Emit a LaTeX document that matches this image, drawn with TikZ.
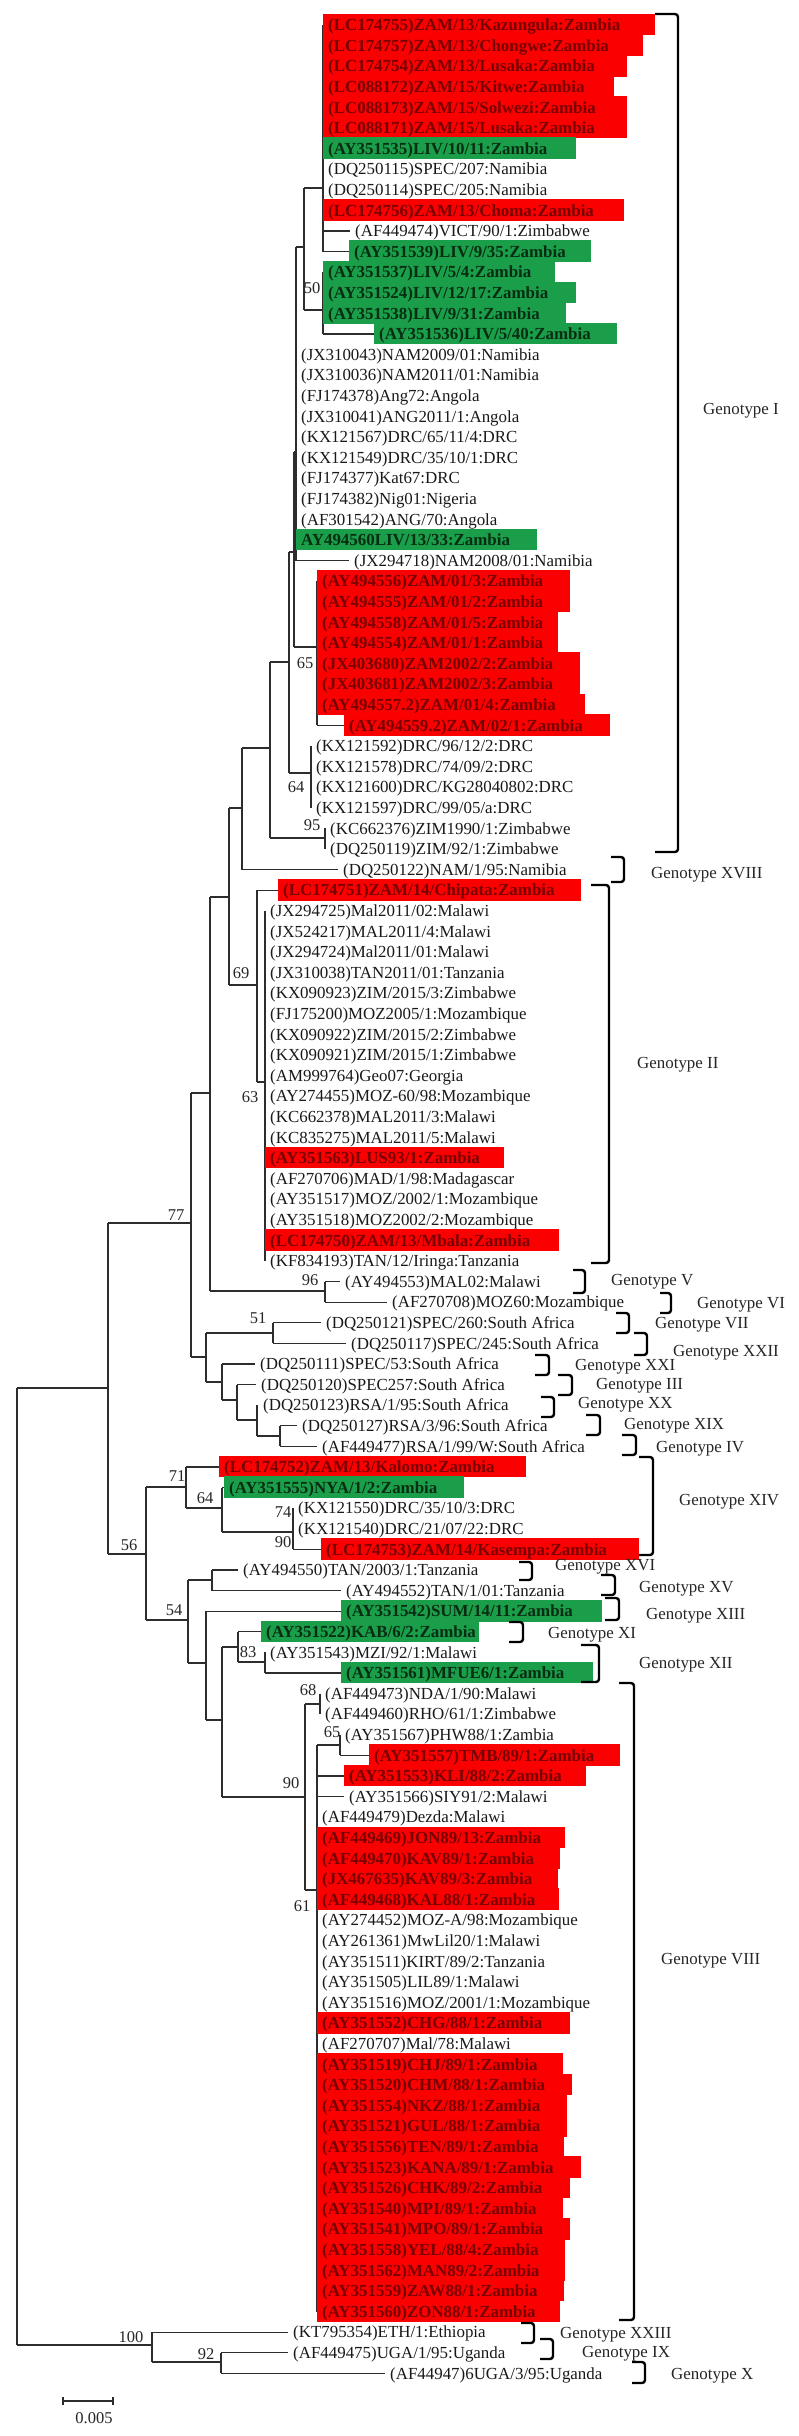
\documentclass[tikz,border=0pt]{standalone}
\usepackage{fontspec}
\setmainfont{Liberation Serif}
\usetikzlibrary{calc}
\pgfdeclarelayer{bglayer}
\pgfdeclarelayer{treelines}
\pgfdeclarelayer{boxes}
\pgfsetlayers{bglayer,treelines,boxes,main}
\definecolor{hlred}{RGB}{250,0,0}
\definecolor{hlredtxt}{RGB}{120,0,0}
\definecolor{hlgreen}{RGB}{26,158,74}
\definecolor{hlgreentxt}{RGB}{8,45,18}
\definecolor{linec}{RGB}{45,45,45}
\tikzset{
  tree/.style={draw=linec, line width=1.1pt},
  leaf/.style={font=\fontsize{16.9}{20}\selectfont, inner sep=0pt, text=black!90},
  redtxt/.style={font=\fontsize{16.9}{20}\selectfont\bfseries, text=hlredtxt},
  greentxt/.style={font=\fontsize{16.9}{20}\selectfont\bfseries, text=hlgreentxt},
  bs/.style={font=\fontsize{16.5}{18}\selectfont, inner sep=0pt, text=black!85},
  brk/.style={draw=black, line width=2.4pt, rounded corners=3pt},
  glab/.style={font=\fontsize{16.9}{20}\selectfont, inner sep=0pt, text=black!85}
}
\newcommand\pleaf[4]{%
  \pgfmathsetmacro\ry{25+(#1-1)*20.6}%
  \coordinate (b#1) at (#3,\ry);%
  \begin{pgfonlayer}{treelines}\draw[tree] (#2 |- b#1) -- (b#1);\end{pgfonlayer}%
  \node[leaf,anchor=base west] (t#1) at ({#3+5},{\ry+5.6}) {#4};}
\newcommand\rleaf[5]{%
  \pgfmathsetmacro\ry{25+(#1-1)*20.6}%
  \coordinate (b#1) at (#3,\ry);%
  \begin{pgfonlayer}{treelines}\draw[tree] (#2 |- b#1) -- (b#1);\end{pgfonlayer}%
  \begin{pgfonlayer}{boxes}\fill[hlred] (#3,{\ry-11.3}) rectangle (#4,{\ry+10.3});\end{pgfonlayer}%
  \node[leaf,redtxt,anchor=base west] (t#1) at ({#3+5},{\ry+5.6}) {#5};}
\newcommand\gleaf[5]{%
  \pgfmathsetmacro\ry{25+(#1-1)*20.6}%
  \coordinate (b#1) at (#3,\ry);%
  \begin{pgfonlayer}{treelines}\draw[tree] (#2 |- b#1) -- (b#1);\end{pgfonlayer}%
  \begin{pgfonlayer}{boxes}\fill[hlgreen] (#3,{\ry-11.3}) rectangle (#4,{\ry+10.3});\end{pgfonlayer}%
  \node[leaf,greentxt,anchor=base west] (t#1) at ({#3+5},{\ry+5.6}) {#5};}
\newcommand\geno[8]{%
  \draw[brk] (#2,#4) -- (#3,#4) -- (#3,#5) -- (#2,#5);%
  \node[glab,anchor=base west] (#1) at (#6,{#7+5.6}) {#8};}
\begin{document}
\begin{tikzpicture}[x=1pt,y=-1pt]
\begin{pgfonlayer}{bglayer}
\fill[white] (0,0) rectangle (799,2436);
\end{pgfonlayer}
\useasboundingbox (0,0) rectangle (799,2436);
% internal nodes
\coordinate (a1) at (323,188);
\coordinate (a3) at (323,310);
\coordinate (a2) at (304,247);
\coordinate (a4) at (296,452);
\coordinate (R1) at (317,647);
\coordinate (A) at (294,552);
\coordinate (DRC) at (311,773);
\coordinate (B) at (289,662);
\coordinate (ZIM) at (325,838);
\coordinate (C) at (270,748);
\coordinate (D) at (242,808);
\coordinate (N69) at (257,985);
\coordinate (N63) at (265,1082);
\coordinate (E) at (229,897);
\coordinate (G) at (325,1291);
\coordinate (F) at (210,1093);
\coordinate (N51) at (273,1333);
\coordinate (M) at (280,1436);
\coordinate (L) at (257,1420);
\coordinate (K) at (237,1400);
\coordinate (J) at (222,1382);
\coordinate (I) at (206,1357);
\coordinate (H) at (191,1223);
\coordinate (NN) at (293,1532);
\coordinate (N64) at (222,1508);
\coordinate (N71) at (186,1487);
\coordinate (R) at (212,1580);
\coordinate (V) at (265,1662);
\coordinate (U) at (238,1647);
\coordinate (N68) at (320,1704);
\coordinate (N65) at (340,1745);
\coordinate (N61) at (317,1890);
\coordinate (N90) at (305,1797);
\coordinate (X) at (222,1720);
\coordinate (T) at (206,1663);
\coordinate (S) at (188,1620);
\coordinate (Q) at (146,1554);
\coordinate (P) at (108,1388);
\coordinate (N92) at (221,2362);
\coordinate (N100) at (152,2345);
\coordinate (root) at (17,1866);
% leaves
\rleaf{1}{a1}{323}{655}{(LC174755)ZAM/13/Kazungula:Zambia}
\rleaf{2}{a1}{323}{643}{(LC174757)ZAM/13/Chongwe:Zambia}
\rleaf{3}{a1}{323}{627}{(LC174754)ZAM/13/Lusaka:Zambia}
\rleaf{4}{a1}{323}{614}{(LC088172)ZAM/15/Kitwe:Zambia}
\rleaf{5}{a1}{323}{627}{(LC088173)ZAM/15/Solwezi:Zambia}
\rleaf{6}{a1}{323}{627}{(LC088171)ZAM/15/Lusaka:Zambia}
\gleaf{7}{a1}{323}{576}{(AY351535)LIV/10/11:Zambia}
\pleaf{8}{a1}{323}{(DQ250115)SPEC/207:Namibia}
\pleaf{9}{a1}{323}{(DQ250114)SPEC/205:Namibia}
\rleaf{10}{a1}{323}{624}{(LC174756)ZAM/13/Choma:Zambia}
\pleaf{11}{a1}{350}{(AF449474)VICT/90/1:Zimbabwe}
\gleaf{12}{a1}{349}{591}{(AY351539)LIV/9/35:Zambia}
\gleaf{13}{a3}{323}{555}{(AY351537)LIV/5/4:Zambia}
\gleaf{14}{a3}{323}{576}{(AY351524)LIV/12/17:Zambia}
\gleaf{15}{a3}{323}{566}{(AY351538)LIV/9/31:Zambia}
\gleaf{16}{a3}{374}{617}{(AY351536)LIV/5/40:Zambia}
\pleaf{17}{a4}{296}{(JX310043)NAM2009/01:Namibia}
\pleaf{18}{a4}{296}{(JX310036)NAM2011/01:Namibia}
\pleaf{19}{a4}{296}{(FJ174378)Ang72:Angola}
\pleaf{20}{a4}{296}{(JX310041)ANG2011/1:Angola}
\pleaf{21}{a4}{296}{(KX121567)DRC/65/11/4:DRC}
\pleaf{22}{a4}{296}{(KX121549)DRC/35/10/1:DRC}
\pleaf{23}{a4}{296}{(FJ174377)Kat67:DRC}
\pleaf{24}{a4}{296}{(FJ174382)Nig01:Nigeria}
\pleaf{25}{a4}{296}{(AF301542)ANG/70:Angola}
\gleaf{26}{a4}{296}{537}{AY494560LIV/13/33:Zambia}
\pleaf{27}{a4}{349}{(JX294718)NAM2008/01:Namibia}
\rleaf{28}{R1}{317}{570}{(AY494556)ZAM/01/3:Zambia}
\rleaf{29}{R1}{317}{570}{(AY494555)ZAM/01/2:Zambia}
\rleaf{30}{R1}{317}{558}{(AY494558)ZAM/01/5:Zambia}
\rleaf{31}{R1}{317}{558}{(AY494554)ZAM/01/1:Zambia}
\rleaf{32}{R1}{317}{580}{(JX403680)ZAM2002/2:Zambia}
\rleaf{33}{R1}{317}{580}{(JX403681)ZAM2002/3:Zambia}
\rleaf{34}{R1}{317}{585}{(AY494557.2)ZAM/01/4:Zambia}
\rleaf{35}{R1}{344}{610}{(AY494559.2)ZAM/02/1:Zambia}
\pleaf{36}{DRC}{311}{(KX121592)DRC/96/12/2:DRC}
\pleaf{37}{DRC}{311}{(KX121578)DRC/74/09/2:DRC}
\pleaf{38}{DRC}{311}{(KX121600)DRC/KG28040802:DRC}
\pleaf{39}{DRC}{311}{(KX121597)DRC/99/05/a:DRC}
\pleaf{40}{ZIM}{325}{(KC662376)ZIM1990/1:Zimbabwe}
\pleaf{41}{ZIM}{325}{(DQ250119)ZIM/92/1:Zimbabwe}
\pleaf{42}{D}{338}{(DQ250122)NAM/1/95:Namibia}
\rleaf{43}{N69}{278}{581}{(LC174751)ZAM/14/Chipata:Zambia}
\pleaf{44}{N63}{265}{(JX294725)Mal2011/02:Malawi}
\pleaf{45}{N63}{265}{(JX524217)MAL2011/4:Malawi}
\pleaf{46}{N63}{265}{(JX294724)Mal2011/01:Malawi}
\pleaf{47}{N63}{265}{(JX310038)TAN2011/01:Tanzania}
\pleaf{48}{N63}{265}{(KX090923)ZIM/2015/3:Zimbabwe}
\pleaf{49}{N63}{265}{(FJ175200)MOZ2005/1:Mozambique}
\pleaf{50}{N63}{265}{(KX090922)ZIM/2015/2:Zimbabwe}
\pleaf{51}{N63}{265}{(KX090921)ZIM/2015/1:Zimbabwe}
\pleaf{52}{N63}{265}{(AM999764)Geo07:Georgia}
\pleaf{53}{N63}{265}{(AY274455)MOZ-60/98:Mozambique}
\pleaf{54}{N63}{265}{(KC662378)MAL2011/3:Malawi}
\pleaf{55}{N63}{265}{(KC835275)MAL2011/5:Malawi}
\rleaf{56}{N63}{265}{504}{(AY351563)LUS93/1:Zambia}
\pleaf{57}{N63}{265}{(AF270706)MAD/1/98:Madagascar}
\pleaf{58}{N63}{265}{(AY351517)MOZ/2002/1:Mozambique}
\pleaf{59}{N63}{265}{(AY351518)MOZ2002/2:Mozambique}
\rleaf{60}{N63}{265}{559}{(LC174750)ZAM/13/Mbala:Zambia}
\pleaf{61}{N63}{265}{(KF834193)TAN/12/Iringa:Tanzania}
\pleaf{62}{G}{340}{(AY494553)MAL02:Malawi}
\pleaf{63}{G}{387}{(AF270708)MOZ60:Mozambique}
\pleaf{64}{N51}{321}{(DQ250121)SPEC/260:South Africa}
\pleaf{65}{N51}{346}{(DQ250117)SPEC/245:South Africa}
\pleaf{66}{J}{255}{(DQ250111)SPEC/53:South Africa}
\pleaf{67}{K}{256}{(DQ250120)SPEC257:South Africa}
\pleaf{68}{L}{258}{(DQ250123)RSA/1/95:South Africa}
\pleaf{69}{M}{297}{(DQ250127)RSA/3/96:South Africa}
\pleaf{70}{M}{317}{(AF449477)RSA/1/99/W:South Africa}
\rleaf{71}{N71}{219}{526}{(LC174752)ZAM/13/Kalomo:Zambia}
\gleaf{72}{N64}{224}{464}{(AY351555)NYA/1/2:Zambia}
\pleaf{73}{NN}{293}{(KX121550)DRC/35/10/3:DRC}
\pleaf{74}{NN}{293}{(KX121540)DRC/21/07/22:DRC}
\rleaf{75}{NN}{321}{639}{(LC174753)ZAM/14/Kasempa:Zambia}
\pleaf{76}{R}{238}{(AY494550)TAN/2003/1:Tanzania}
\pleaf{77}{R}{341}{(AY494552)TAN/1/01:Tanzania}
\gleaf{78}{T}{341}{602}{(AY351542)SUM/14/11:Zambia}
\gleaf{79}{U}{261}{479}{(AY351522)KAB/6/2:Zambia}
\pleaf{80}{V}{265}{(AY351543)MZI/92/1:Malawi}
\gleaf{81}{V}{341}{593}{(AY351561)MFUE6/1:Zambia}
\pleaf{82}{N68}{320}{(AF449473)NDA/1/90:Malawi}
\pleaf{83}{N68}{320}{(AF449460)RHO/61/1:Zimbabwe}
\pleaf{84}{N65}{340}{(AY351567)PHW88/1:Zambia}
\rleaf{85}{N65}{369}{620}{(AY351557)TMB/89/1:Zambia}
\rleaf{86}{N61}{344}{586}{(AY351553)KLI/88/2:Zambia}
\pleaf{87}{N61}{344}{(AY351566)SIY91/2:Malawi}
\pleaf{88}{N61}{317}{(AF449479)Dezda:Malawi}
\rleaf{89}{N61}{317}{565}{(AF449469)JON89/13:Zambia}
\rleaf{90}{N61}{317}{560}{(AF449470)KAV89/1:Zambia}
\rleaf{91}{N61}{317}{558}{(JX467635)KAV89/3:Zambia}
\rleaf{92}{N61}{317}{559}{(AF449468)KAL88/1:Zambia}
\pleaf{93}{N61}{317}{(AY274452)MOZ-A/98:Mozambique}
\pleaf{94}{N61}{317}{(AY261361)MwLil20/1:Malawi}
\pleaf{95}{N61}{317}{(AY351511)KIRT/89/2:Tanzania}
\pleaf{96}{N61}{317}{(AY351505)LIL89/1:Malawi}
\pleaf{97}{N61}{317}{(AY351516)MOZ/2001/1:Mozambique}
\rleaf{98}{N61}{317}{570}{(AY351552)CHG/88/1:Zambia}
\pleaf{99}{N61}{317}{(AF270707)Mal/78:Malawi}
\rleaf{100}{N61}{317}{563}{(AY351519)CHJ/89/1:Zambia}
\rleaf{101}{N61}{317}{572}{(AY351520)CHM/88/1:Zambia}
\rleaf{102}{N61}{317}{567}{(AY351554)NKZ/88/1:Zambia}
\rleaf{103}{N61}{317}{567}{(AY351521)GUL/88/1:Zambia}
\rleaf{104}{N61}{317}{564}{(AY351556)TEN/89/1:Zambia}
\rleaf{105}{N61}{317}{581}{(AY351523)KANA/89/1:Zambia}
\rleaf{106}{N61}{317}{570}{(AY351526)CHK/89/2:Zambia}
\rleaf{107}{N61}{317}{563}{(AY351540)MPI/89/1:Zambia}
\rleaf{108}{N61}{317}{570}{(AY351541)MPO/89/1:Zambia}
\rleaf{109}{N61}{317}{565}{(AY351558)YEL/88/4:Zambia}
\rleaf{110}{N61}{317}{565}{(AY351562)MAN89/2:Zambia}
\rleaf{111}{N61}{317}{564}{(AY351559)ZAW88/1:Zambia}
\rleaf{112}{N61}{317}{560}{(AY351560)ZON88/1:Zambia}
\pleaf{113}{N100}{288}{(KT795354)ETH/1:Ethiopia}
\pleaf{114}{N92}{288}{(AF449475)UGA/1/95:Uganda}
\pleaf{115}{N92}{385}{(AF44947)6UGA/3/95:Uganda}
% tree lines
\begin{pgfonlayer}{treelines}
\draw[tree] (a2 |- a1) -- (a1); \draw[tree] (a2 |- a3) -- (a3);
\draw[tree] (a4 |- a2) -- (a2); \draw[tree] (A |- a4) -- (a4);
\draw[tree] (A |- R1) -- (R1); \draw[tree] (B |- A) -- (A);
\draw[tree] (B |- DRC) -- (DRC); \draw[tree] (C |- B) -- (B);
\draw[tree] (C |- ZIM) -- (ZIM); \draw[tree] (D |- C) -- (C);
\draw[tree] (E |- D) -- (D); \draw[tree] (E |- N69) -- (N69);
\draw[tree] (N69 |- N63) -- (N63); \draw[tree] (F |- E) -- (E);
\draw[tree] (F |- G) -- (G); \draw[tree] (H |- F) -- (F);
\draw[tree] (H |- I) -- (I); \draw[tree] (I |- N51) -- (N51);
\draw[tree] (I |- J) -- (J); \draw[tree] (J |- K) -- (K);
\draw[tree] (K |- L) -- (L); \draw[tree] (L |- M) -- (M);
\draw[tree] (P |- H) -- (H); \draw[tree] (P |- Q) -- (Q);
\draw[tree] (Q |- N71) -- (N71); \draw[tree] (Q |- S) -- (S);
\draw[tree] (N71 |- N64) -- (N64); \draw[tree] (N64 |- NN) -- (NN);
\draw[tree] (S |- R) -- (R); \draw[tree] (S |- T) -- (T);
\draw[tree] (T |- X) -- (X); \draw[tree] (X |- U) -- (U);
\draw[tree] (X |- N90) -- (N90); \draw[tree] (U |- V) -- (V);
\draw[tree] (N90 |- N68) -- (N68); \draw[tree] (N90 |- N61) -- (N61);
\draw[tree] (N61 |- N65) -- (N65); \draw[tree] (root |- P) -- (P);
\draw[tree] (root |- N100) -- (N100); \draw[tree] (N100 |- N92) -- (N92);
% verticals
\draw[tree] (a1 |- b1) -- (a1 |- b12);
\draw[tree] (a3 |- b13) -- (a3 |- b16);
\draw[tree] (a2 |- a1) -- (a2 |- a3);
\draw[tree] (a4 |- a2) -- (a4 |- b27);
\draw[tree] (A |- a4) -- (A |- R1);
\draw[tree] (R1 |- b28) -- (R1 |- b35);
\draw[tree] (B |- A) -- (B |- DRC);
\draw[tree] (DRC |- b36) -- (DRC |- b39);
\draw[tree] (C |- B) -- (C |- ZIM);
\draw[tree] (ZIM |- b40) -- (ZIM |- b41);
\draw[tree] (D |- C) -- (D |- b42);
\draw[tree] (E |- D) -- (E |- N69);
\draw[tree] (N69 |- b43) -- (N69 |- N63);
\draw[tree] (N63 |- b44) -- (N63 |- b61);
\draw[tree] (F |- E) -- (F |- G);
\draw[tree] (G |- b62) -- (G |- b63);
\draw[tree] (H |- F) -- (H |- I);
\draw[tree] (I |- N51) -- (I |- J);
\draw[tree] (N51 |- b64) -- (N51 |- b65);
\draw[tree] (J |- b66) -- (J |- K);
\draw[tree] (K |- b67) -- (K |- L);
\draw[tree] (L |- b68) -- (L |- M);
\draw[tree] (M |- b69) -- (M |- b70);
\draw[tree] (P |- H) -- (P |- Q);
\draw[tree] (Q |- N71) -- (Q |- S);
\draw[tree] (N71 |- b71) -- (N71 |- N64);
\draw[tree] (N64 |- b72) -- (N64 |- NN);
\draw[tree] (NN |- b73) -- (NN |- b75);
\draw[tree] (S |- R) -- (S |- T);
\draw[tree] (R |- b76) -- (R |- b77);
\draw[tree] (T |- b78) -- (T |- X);
\draw[tree] (X |- U) -- (X |- N90);
\draw[tree] (U |- b79) -- (U |- V);
\draw[tree] (V |- b80) -- (V |- b81);
\draw[tree] (N90 |- N68) -- (N90 |- N61);
\draw[tree] (N68 |- b82) -- (N68 |- b83);
\draw[tree] (N61 |- N65) -- (N61 |- b112);
\draw[tree] (N65 |- b84) -- (N65 |- b85);
\draw[tree] (root |- P) -- (root |- N100);
\draw[tree] (N100 |- b113) -- (N100 |- N92);
\draw[tree] (N92 |- b114) -- (N92 |- b115);
\end{pgfonlayer}
% bootstrap values
\node[bs] (bs50) at (312,288) {50};
\node[bs] (bs65a) at (305,663) {65};
\node[bs] (bs64a) at (296,787) {64};
\node[bs] (bs95) at (312,825) {95};
\node[bs] (bs69) at (241,973) {69};
\node[bs] (bs63) at (250,1097) {63};
\node[bs] (bs77) at (176,1215) {77};
\node[bs] (bs96) at (310,1280) {96};
\node[bs] (bs51) at (258,1318) {51};
\node[bs] (bs71) at (177,1476) {71};
\node[bs] (bs64b) at (205,1498) {64};
\node[bs] (bs74) at (283,1512) {74};
\node[bs] (bs90a) at (283,1542) {90};
\node[bs] (bs56) at (129,1545) {56};
\node[bs] (bs54) at (174,1610) {54};
\node[bs] (bs83) at (248,1652) {83};
\node[bs] (bs68) at (308,1690) {68};
\node[bs] (bs65b) at (332,1732) {65};
\node[bs] (bs90b) at (291,1783) {90};
\node[bs] (bs61) at (302,1906) {61};
\node[bs] (bs100) at (131,2337) {100};
\node[bs] (bs92) at (206,2354) {92};
% genotype brackets
\geno{gI}{655}{678}{14}{852}{703}{409}{Genotype I}
\geno{gXVIII}{611}{624}{857}{882}{651}{873}{Genotype XVIII}
\geno{gII}{591}{609}{885}{1263}{637}{1063}{Genotype II}
\geno{gV}{573}{585}{1270}{1293}{611}{1280}{Genotype V}
\geno{gVI}{660}{671}{1293}{1313}{697}{1303}{Genotype VI}
\geno{gVII}{616}{629}{1313}{1333}{655}{1323}{Genotype VII}
\geno{gXXII}{634}{647}{1333}{1355}{673}{1351}{Genotype XXII}
\geno{gXXI}{535}{549}{1355}{1375}{575}{1365}{Genotype XXI}
\geno{gIII}{558}{572}{1375}{1395}{596}{1384}{Genotype III}
\geno{gXX}{541}{554}{1397}{1417}{578}{1403}{Genotype XX}
\geno{gXIX}{586}{600}{1415}{1435}{624}{1424}{Genotype XIX}
\geno{gIV}{622}{636}{1435}{1455}{656}{1447}{Genotype IV}
\geno{gXIV}{639}{653}{1457}{1555}{679}{1500}{Genotype XIV}
\geno{gXVI}{519}{532}{1562}{1580}{555}{1565}{Genotype XVI}
\geno{gXV}{601}{615}{1575}{1595}{639}{1587}{Genotype XV}
\geno{gXIII}{605}{619}{1598}{1620}{646}{1614}{Genotype XIII}
\geno{gXI}{509}{523}{1622}{1642}{548}{1633}{Genotype XI}
\geno{gXII}{581}{599}{1645}{1682}{639}{1663}{Genotype XII}
\geno{gVIII}{619}{634}{1683}{2320}{661}{1959}{Genotype VIII}
\geno{gXXIII}{521}{534}{2323}{2343}{560}{2333}{Genotype XXIII}
\geno{gIX}{540}{553}{2339}{2359}{582}{2352}{Genotype IX}
\geno{gX}{632}{645}{2362}{2383}{671}{2374}{Genotype X}
% scale bar
\coordinate (sb1) at (63,2401);
\coordinate (sb2) at (113,2401);
\draw[tree] (sb1) -- (sb2);
\draw[tree] ($(sb1)+(0,-4)$) -- ($(sb1)+(0,4)$);
\draw[tree] ($(sb2)+(0,-4)$) -- ($(sb2)+(0,4)$);
\node[bs,anchor=base] (sblab) at (94,2423) {0.005};
\end{tikzpicture}
\end{document}
